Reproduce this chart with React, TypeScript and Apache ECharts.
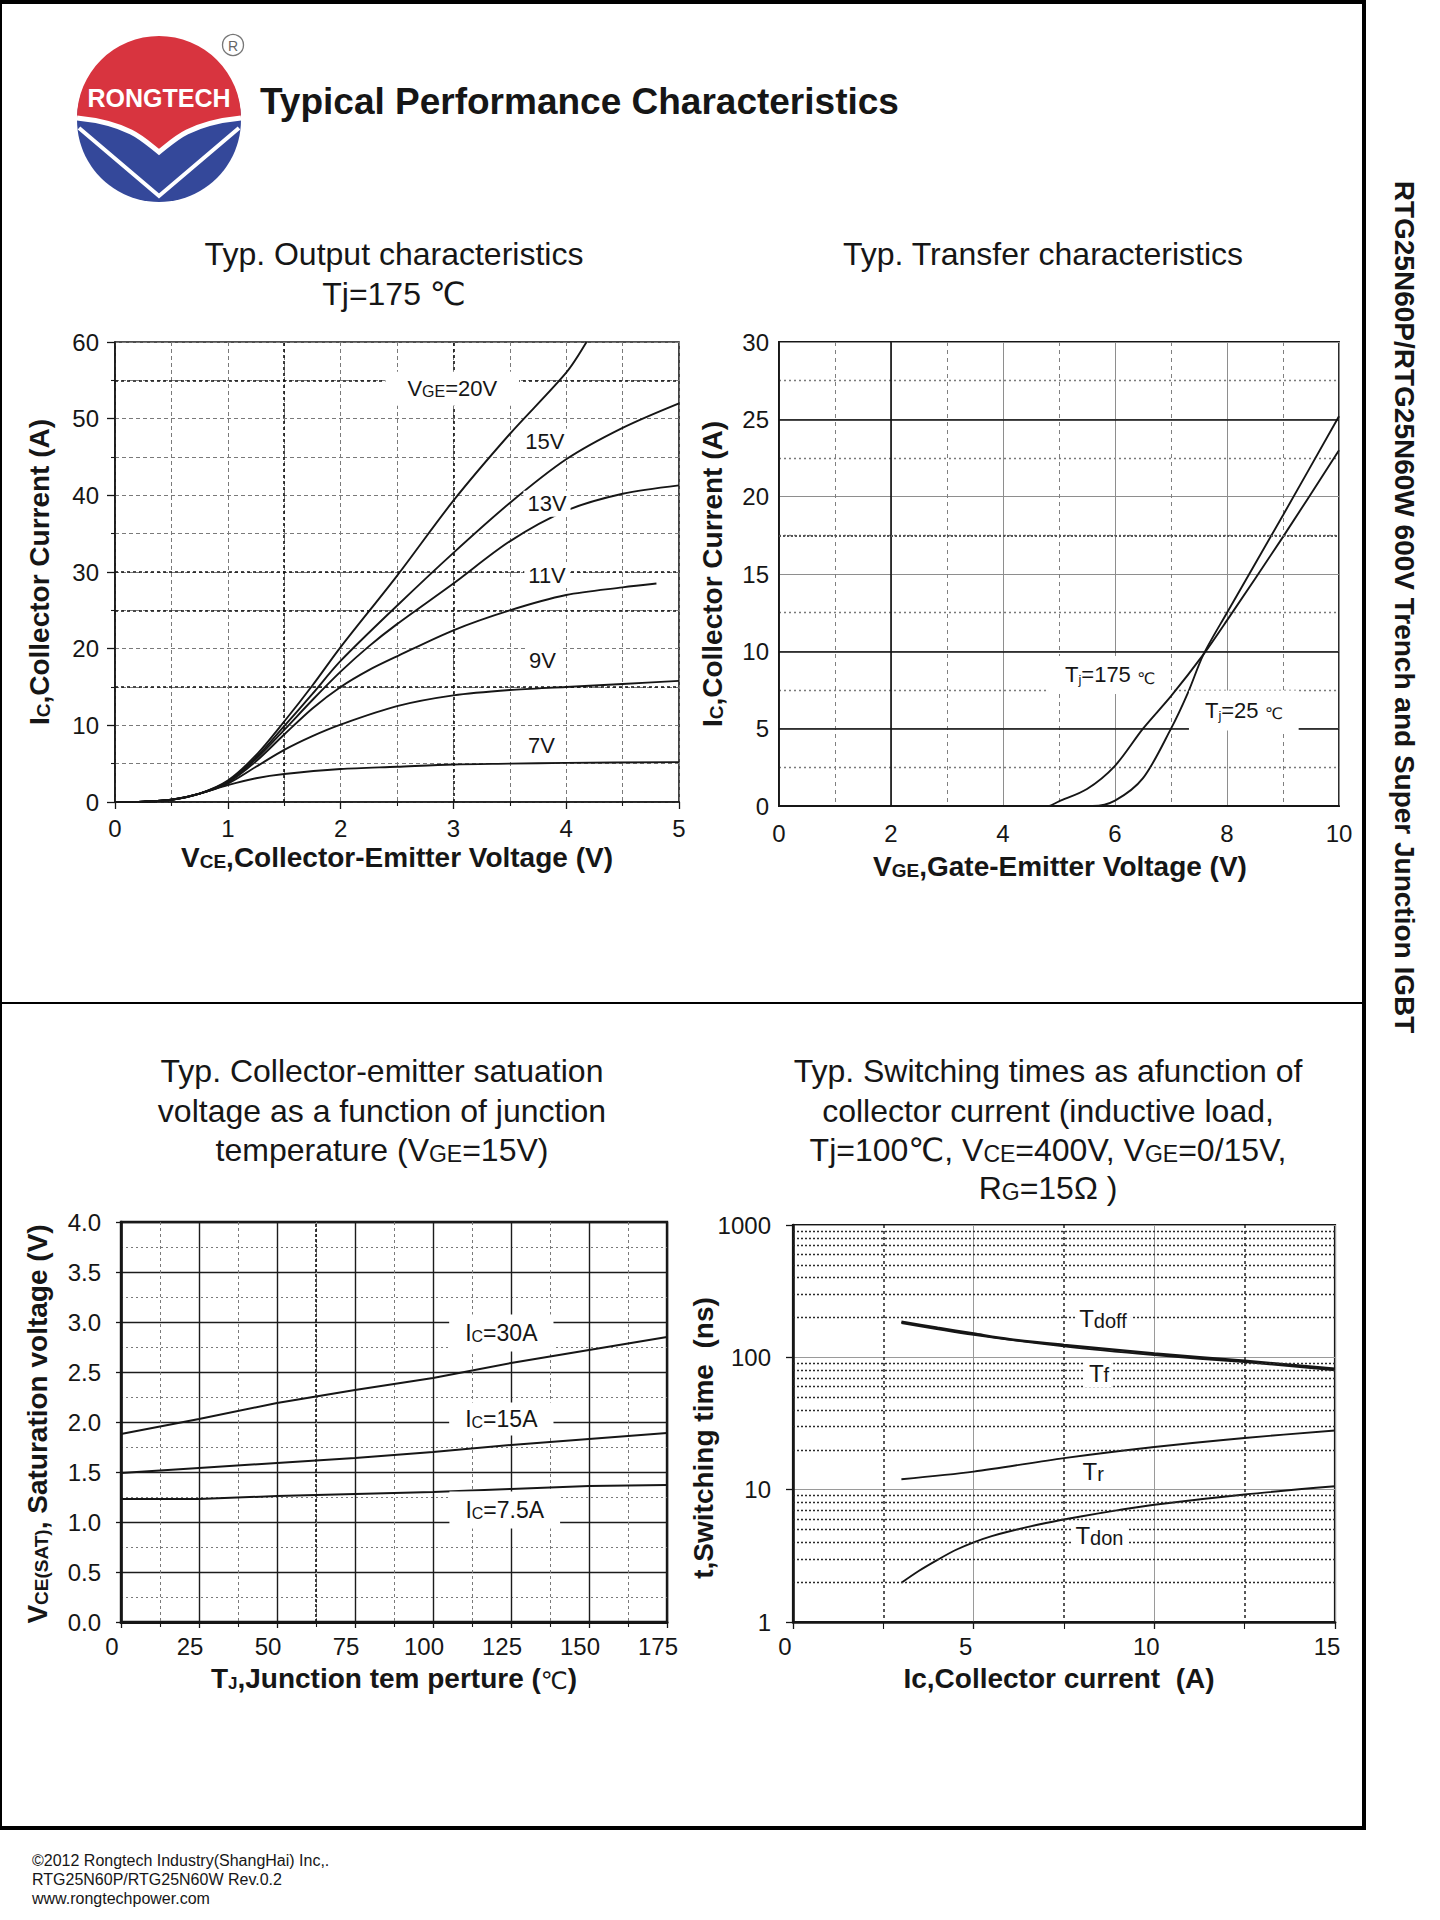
import React, { useEffect, useRef } from "react";
import * as echarts from "echarts";

const FONT = "'Liberation Sans', Arial, Helvetica, sans-serif";
const FONT_CJK = "'Liberation Sans', 'DejaVu Sans', 'Noto Sans CJK SC', sans-serif";
const INK = "#161616";

// ================= Chart 1: Typ. output characteristics (VCE [V] -> Ic [A]) =================
const c1XTicks = [0, 1, 2, 3, 4, 5];
const c1YTicks = [0, 10, 20, 30, 40, 50, 60];
const c1Vge20 = [[0, 0], [0.25, 0.05], [0.5, 0.3], [0.75, 1.1], [1, 2.8], [1.25, 6.1], [1.5, 10.5], [1.75, 15.2], [2, 20.2], [2.5, 29.5], [3, 39.3], [3.5, 48], [4, 56], [4.18, 60]];
const c1Vge15 = [[0, 0], [0.25, 0.05], [0.5, 0.3], [0.75, 1.1], [1, 2.7], [1.25, 5.8], [1.5, 9.9], [1.75, 14.1], [2, 18.4], [2.5, 25.6], [3, 32.5], [3.5, 39], [4, 44.7], [4.5, 48.8], [5, 52]];
const c1Vge13 = [[0, 0], [0.25, 0.05], [0.5, 0.3], [0.75, 1.1], [1, 2.6], [1.25, 5.6], [1.5, 9.4], [1.75, 13.3], [2, 17], [2.25, 20.3], [2.5, 23.2], [3, 28.5], [3.5, 34], [4, 38], [4.5, 40.2], [5, 41.3]];
const c1Vge11 = [[0, 0], [0.25, 0.05], [0.5, 0.3], [0.75, 1.1], [1, 2.5], [1.25, 5.3], [1.5, 8.8], [1.75, 12.2], [2, 15], [2.25, 17.2], [2.5, 19], [3, 22.4], [3.5, 25], [4, 27], [4.5, 28], [4.8, 28.5]];
const c1Vge9 = [[0, 0], [0.25, 0.05], [0.5, 0.3], [0.75, 1.1], [1, 2.4], [1.25, 4.6], [1.5, 6.8], [1.75, 8.6], [2, 10.1], [2.5, 12.5], [3, 13.9], [3.5, 14.6], [4, 15], [4.5, 15.4], [5, 15.8]];
const c1Vge7 = [[0, 0], [0.25, 0.05], [0.5, 0.3], [0.75, 1.1], [1, 2.2], [1.25, 3.1], [1.5, 3.65], [2, 4.3], [2.5, 4.6], [3, 4.9], [3.5, 5], [4, 5.1], [5, 5.2]];
const c1Labels = [
  { at: [2.99, 53.9], text: "{a|V}{s|GE}{a|=20V}", pad: [6, 22] },
  { at: [3.81, 47.0], text: "{a|15V}", pad: [2, 4] },
  { at: [3.83, 38.9], text: "{a|13V}", pad: [2, 4] },
  { at: [3.83, 29.6], text: "{a|11V}", pad: [2, 4] },
  { at: [3.79, 18.5], text: "{a|9V}", pad: [2, 4] },
  { at: [3.78, 7.4], text: "{a|7V}", pad: [2, 4] },
];
const c1HeavyX = [1.5, 3];
const c1HeavyY = [55, 30, 25, 15];

// ================= Chart 2: Typ. transfer characteristics (VGE [V] -> Ic [A]) =================
const c2XTicks = [0, 2, 4, 6, 8, 10];
const c2YTicks = [0, 5, 10, 15, 20, 25, 30];
const c2Tj175 = [[0, 0], [4.8, 0], [5, 0.3], [5.5, 1.1], [6, 2.6], [6.5, 5], [7, 7.1], [7.58, 9.8], [8, 12], [9, 17.4], [10, 23]];
const c2Tj25 = [[0, 0], [5.6, 0], [6, 0.35], [6.5, 1.8], [7, 5], [7.3, 7.3], [7.58, 9.8], [8, 12.5], [9, 18.8], [10, 25.2]];
const c2Labels = [
  { at: [5.91, 8.47], text: "{a|T}{j|j}{a|=175 }{d|℃}", pad: [8, 16] },
  { at: [8.3, 6.17], text: "{a|T}{j|j}{a|=25 }{d|℃}", pad: [9, 16] },
];
const c2BlackX = [2];
const c2BlackY = [5, 10, 25];
const c2HeavyY = [17.5];

// ================= Chart 3: VCE(sat) vs junction temperature =================
const c3XTicks = [0, 25, 50, 75, 100, 125, 150, 175];
const c3YTicks = [0, 0.5, 1, 1.5, 2, 2.5, 3, 3.5, 4];
const c3Ic30 = [[0, 1.88], [25, 2.03], [50, 2.19], [75, 2.32], [100, 2.44], [125, 2.59], [150, 2.72], [175, 2.85]];
const c3Ic15 = [[0, 1.49], [25, 1.54], [50, 1.59], [75, 1.64], [100, 1.7], [125, 1.77], [150, 1.83], [175, 1.89]];
const c3Ic75 = [[0, 1.23], [25, 1.23], [50, 1.26], [75, 1.28], [100, 1.3], [125, 1.33], [150, 1.36], [175, 1.37]];
const c3Labels = [
  { at: [121.9, 2.89], text: "{a|I}{s|C}{a|=30A}", pad: [7, 16] },
  { at: [121.9, 2.03], text: "{a|I}{s|C}{a|=15A}", pad: [5, 16] },
  { at: [123, 1.12], text: "{a|I}{s|C}{a|=7.5A}", pad: [7, 16] },
];
const c3HeavyX = [62.5];

// ================= Chart 4: switching times vs collector current (log) =================
const c4XTicks = [0, 5, 10, 15];
const c4YTicks = [1, 10, 100, 1000];
const c4Tdoff = [[3, 186], [4, 167], [5, 151], [6, 137], [7.5, 124], [10, 107], [12.5, 94], [15, 82]];
const c4Tf = [[3, 182], [5, 148], [7.5, 121], [10, 104], [12.5, 92], [15, 80]];
const c4Tr = [[3, 12], [5, 13.7], [7.5, 17.3], [10, 21], [12.5, 24.6], [15, 28]];
const c4Tdon = [[3, 1.98], [3.5, 2.45], [4, 2.95], [4.5, 3.5], [5, 4.0], [5.5, 4.45], [6, 4.85], [7, 5.6], [8, 6.3], [9, 7.0], [10, 7.7], [12.5, 9.2], [15, 10.6]];
const c4Labels = [
  { at: [8.58, 196], text: "{b|T}{t|doff}", pad: [2, 4] },
  { at: [8.47, 76], text: "{b|T}{t|f}", pad: [2, 4] },
  { at: [8.31, 13.7], text: "{b|T}{t|r}", pad: [2, 4] },
  { at: [8.48, 4.5], text: "{b|T}{t|don}", pad: [2, 4] },
];
const c4MinorY = [2, 3, 4, 5, 6, 7, 8, 9, 20, 30, 40, 50, 60, 70, 80, 90, 200, 300, 400, 500, 600, 700, 800, 900];

// ================= logo shapes =================
const RED_D = "M -82 -2 A 82 82 0 0 1 82 -2 C 62 0 44 4 28 12 C 16 18 8 26 0 32 C -8 26 -16 18 -28 12 C -44 4 -62 0 -82 -2 Z";
const WAVE_D = "M -82 -2 C -62 0 -44 4 -28 12 C -16 18 -8 26 0 32 C 8 26 16 18 28 12 C 44 4 62 0 82 -2";
const V_D = "M -80 8 L 0 76 L 80 8";
let shapesReady = false;
function ensureShapes() {
  if (shapesReady) return;
  echarts.graphic.registerShape("logoRed", echarts.graphic.extendPath(RED_D, {}));
  echarts.graphic.registerShape("logoWave", echarts.graphic.extendPath(WAVE_D, {}));
  echarts.graphic.registerShape("logoV", echarts.graphic.extendPath(V_D, {}));
  shapesReady = true;
}

// ================= helpers =================
function tok(size: number, weight = "normal", family = FONT, extra: any = {}) {
  return { fontSize: size, fontWeight: weight, fontFamily: family, color: INK, fill: INK, verticalAlign: "bottom", ...extra };
}
function richSet(size: number, small: number, weight = "normal") {
  return {
    a: tok(size, weight, FONT_CJK),
    s: tok(small, weight, FONT_CJK),
    c: tok(size - 4, "normal", FONT_CJK),
    j: tok(13, "normal", FONT, { verticalAlign: "bottom", lineHeight: 14 }),
    d: tok(16, "normal", FONT_CJK),
    b: tok(size, weight, FONT),
    t: tok(small, weight, FONT),
  };
}
function gtext(x: number, y: number, text: string, size: number, small: number, weight = "normal", rotation = 0, align = "center") {
  return {
    type: "text",
    x,
    y,
    rotation,
    silent: true,
    style: {
      text,
      fontSize: size,
      fontWeight: weight,
      fontFamily: FONT_CJK,
      fill: INK,
      align,
      verticalAlign: "middle",
      rich: richSet(size, small, weight),
    },
  };
}
function plainText(x: number, y: number, text: string, size: number, weight = "normal", rotation = 0, align = "center", family = FONT) {
  return {
    type: "text",
    x,
    y,
    rotation,
    silent: true,
    style: { text, fontSize: size, fontWeight: weight, fontFamily: family, fill: INK, align, verticalAlign: "middle" },
  };
}
function curve(data: number[][], idx: number, width = 1.9, extra: any = {}) {
  return {
    type: "line",
    xAxisIndex: idx,
    yAxisIndex: idx,
    data,
    symbol: "none",
    showSymbol: false,
    smooth: 0.3,
    silent: true,
    emphasis: { disabled: true },
    lineStyle: { color: INK, width },
    z: 4,
    ...extra,
  };
}
function gridLines(xs: number[], ys: number[], lineStyle: any) {
  return [...xs.map((v) => ({ xAxis: v, lineStyle })), ...ys.map((v) => ({ yAxis: v, lineStyle }))];
}
function markLines(data: any[]) {
  return {
    silent: true,
    animation: false,
    symbol: ["none", "none"],
    label: { show: false },
    emphasis: { disabled: true },
    data,
  };
}
function tags(list: { at: number[]; text: string; pad: number[] }[], size: number, small: number) {
  return {
    silent: true,
    animation: false,
    data: list.map((l) => ({
      coord: l.at,
      symbol: "circle",
      symbolSize: 1,
      itemStyle: { color: "rgba(0,0,0,0)" },
      label: {
        show: true,
        position: "inside",
        formatter: l.text,
        backgroundColor: "#ffffff",
        padding: l.pad,
        color: INK,
        rich: richSet(size, small, "normal"),
      },
    })),
  };
}
const first = (a: number[]) => a[0];
const last = (a: number[]) => a[a.length - 1];
const step = (a: number[]) => a[1] - a[0];

function axisBase(idx: number, ticks: number[], o: any) {
  return {
    gridIndex: idx,
    type: "value",
    min: first(ticks),
    max: last(ticks),
    interval: step(ticks),
    axisLine: { show: true, onZero: false, lineStyle: { color: INK, width: o.lineW ?? 1.6 } },
    axisTick: o.tick ?? { show: false },
    minorTick: o.minorTick ?? { show: false, splitNumber: 2 },
    splitLine: { show: true, lineStyle: o.split },
    minorSplitLine: { show: true, lineStyle: o.minor },
    axisLabel: {
      color: INK,
      fontSize: 24,
      fontFamily: FONT,
      margin: o.margin,
      padding: o.pad ?? 0,
      formatter: o.fmt,
    },
  };
}

function buildOption() {
  const graphics: any[] = [];
  // page frame
  const frame = (x1: number, y1: number, x2: number, y2: number, w: number) => ({
    type: "line",
    silent: true,
    shape: { x1, y1, x2, y2 },
    style: { stroke: "#000", lineWidth: w },
  });
  graphics.push(frame(0, 2, 1366, 2, 4));
  graphics.push(frame(1, 0, 1, 1830, 2));
  graphics.push(frame(1364, 0, 1364, 1830, 4));
  graphics.push(frame(0, 1828, 1366, 1828, 4));
  graphics.push(frame(0, 1003, 1364, 1003, 2));

  // logo
  graphics.push({
    type: "group",
    x: 159,
    y: 120,
    silent: true,
    children: [
      { type: "circle", shape: { cx: 0, cy: 0, r: 82 }, style: { fill: "#34489a" } },
      { type: "logoRed", style: { fill: "#d8343f" } },
      { type: "logoWave", style: { fill: "none", stroke: "#ffffff", lineWidth: 5 } },
      { type: "logoV", style: { fill: "none", stroke: "#ffffff", lineWidth: 4 } },
      {
        type: "text",
        x: 0,
        y: -22,
        style: { text: "RONGTECH", fontSize: 25, fontWeight: "bold", fontFamily: FONT, fill: "#ffffff", align: "center", verticalAlign: "middle" },
      },
    ],
  });
  graphics.push({ type: "circle", silent: true, shape: { cx: 233, cy: 45, r: 10.5 }, style: { fill: "none", stroke: "#777", lineWidth: 1.3 } });
  graphics.push({
    type: "text",
    x: 233,
    y: 45.5,
    silent: true,
    style: { text: "R", fontSize: 14, fontFamily: FONT, fill: "#666", align: "center", verticalAlign: "middle" },
  });

  // header title
  graphics.push(plainText(260, 101.5, "Typical Performance Characteristics", 37, "bold", 0, "left"));

  // chart titles
  graphics.push(gtext(394, 254, "{a|Typ. Output characteristics}", 32, 23));
  graphics.push(gtext(394, 293.5, "{a|Tj=175 ℃}", 32, 23));
  graphics.push(gtext(1043, 254, "{a|Typ. Transfer characteristics}", 32, 23));
  graphics.push(gtext(382, 1071, "{a|Typ. Collector-emitter satuation}", 32, 23));
  graphics.push(gtext(382, 1110.5, "{a|voltage as a function of junction}", 32, 23));
  graphics.push(gtext(382, 1149.6, "{a|temperature (V}{s|GE}{a|=15V)}", 32, 23));
  graphics.push(gtext(1048, 1071, "{a|Typ. Switching times as afunction of}", 32, 23));
  graphics.push(gtext(1048, 1110.5, "{a|collector current (inductive load,}", 32, 23));
  graphics.push(gtext(1048, 1149.6, "{a|Tj=100℃, V}{s|CE}{a|=400V, V}{s|GE}{a|=0/15V,}", 32, 23));
  graphics.push(gtext(1048, 1187.5, "{a|R}{s|G}{a|=15Ω )}", 32, 23));

  // axis titles
  const R = Math.PI / 2;
  graphics.push(gtext(39, 572, "{a|I}{s|C}{a|,Collector Current (A)}", 28, 19, "bold", R));
  graphics.push(gtext(397, 857, "{a|V}{s|CE}{a|,Collector-Emitter Voltage (V)}", 28, 19, "bold"));
  graphics.push(gtext(712, 574, "{a|I}{s|C}{a|,Collector Current (A)}", 28, 19, "bold", R));
  graphics.push(gtext(1060, 866, "{a|V}{s|GE}{a|,Gate-Emitter Voltage (V)}", 28, 19, "bold"));
  graphics.push(gtext(37, 1424, "{a|V}{s|CE(SAT)}{a|, Saturation voltage (V)}", 28, 19, "bold", R));
  graphics.push(gtext(394, 1678, "{a|T}{s|J}{a|,Junction tem perture (}{c|℃}{a|)}", 28, 17, "bold"));
  graphics.push(gtext(703, 1438, "{a|t,Switching time  (ns)}", 28, 19, "bold", R));
  graphics.push(gtext(1059, 1678, "{a|Ic,Collector current  (A)}", 28, 22, "bold"));

  // side text
  graphics.push(plainText(1404, 607, "RTG25N60P/RTG25N60W 600V Trench and Super Junction IGBT", 28, "bold", -Math.PI / 2));

  // footer
  graphics.push(plainText(32, 1860, "©2012 Rongtech Industry(ShangHai) Inc,.", 16, "normal", 0, "left"));
  graphics.push(plainText(32, 1879, "RTG25N60P/RTG25N60W Rev.0.2", 16, "normal", 0, "left"));
  graphics.push(plainText(32, 1898, "www.rongtechpower.com", 16, "normal", 0, "left"));

  const dashGray = { color: "#7a7a7a", type: [4, 3], width: 1 };
  const outTick = (len: number) => ({ show: true, inside: false, length: len, lineStyle: { color: INK, width: 1.3 } });
  const outMinor = (len: number) => ({ show: true, splitNumber: 2, length: len, lineStyle: { color: INK, width: 1.1 } });

  const xAxis = [
    axisBase(0, c1XTicks, { tick: outTick(7), minorTick: outMinor(4), split: dashGray, minor: dashGray, margin: 14 }),
    axisBase(1, c2XTicks, {
      lineW: 1.8,
      split: { color: "#8e8e8e", type: "solid", width: 1 },
      minor: { color: "#808080", type: [4, 4], width: 1 },
      margin: 15,
    }),
    axisBase(2, c3XTicks, {
      lineW: 3,
      tick: outTick(6),
      minorTick: outMinor(5),
      split: { color: "#1c1c1c", type: "solid", width: 1.4 },
      minor: { color: "#7a7a7a", type: [3, 3], width: 1 },
      margin: 12,
      pad: [0, 18, 0, 0],
    }),
    axisBase(3, c4XTicks, {
      lineW: 2.6,
      tick: outTick(7),
      minorTick: outMinor(7),
      split: { color: "#9a9a9a", type: "solid", width: 1 },
      minor: { color: "#222", type: [3, 3], width: 1.5 },
      margin: 12,
      pad: [0, 16, 0, 0],
    }),
  ];

  const yAxis: any[] = [
    axisBase(0, c1YTicks, { tick: outTick(8), minorTick: outMinor(4), split: dashGray, minor: dashGray, margin: 16 }),
    axisBase(1, c2YTicks, {
      lineW: 1.8,
      split: { color: "#8e8e8e", type: "solid", width: 1 },
      minor: { color: "#7a7a7a", type: [2, 3], width: 1.3 },
      margin: 10,
    }),
    axisBase(2, c3YTicks, {
      lineW: 2.6,
      tick: outTick(5),
      split: { color: "#1c1c1c", type: "solid", width: 1.4 },
      minor: { color: "#7a7a7a", type: [2, 3], width: 1.2 },
      margin: 20,
      fmt: (v: number) => v.toFixed(1),
    }),
    {
      gridIndex: 3,
      type: "log",
      logBase: 10,
      min: first(c4YTicks),
      max: last(c4YTicks),
      axisLine: { show: true, onZero: false, lineStyle: { color: INK, width: 2.6 } },
      axisTick: { show: true, inside: false, length: 7, lineStyle: { color: INK, width: 1.3 } },
      splitLine: { show: true, lineStyle: { color: "#9a9a9a", type: "solid", width: 1 } },
      axisLabel: { color: INK, fontSize: 24, fontFamily: FONT, margin: 22, formatter: (v: number) => String(Math.round(v)) },
    },
  ];

  const heavyDot = { color: "#111", type: [3, 3], width: 1.6 };
  const series: any[] = [
    curve(c1Vge20, 0, 1.9, { markLine: markLines(gridLines(c1HeavyX, c1HeavyY, heavyDot)) }),
    curve(c1Vge15, 0),
    curve(c1Vge13, 0),
    curve(c1Vge11, 0),
    curve(c1Vge9, 0),
    curve(c1Vge7, 0, 1.9, { markPoint: tags(c1Labels, 22, 16) }),

    curve(c2Tj175, 1, 1.9, {
      markLine: markLines([
        ...gridLines(c2BlackX, c2BlackY, { color: "#111", type: "solid", width: 1.6 }),
        ...gridLines([], c2HeavyY, { color: "#555", type: [2, 2], width: 1.8 }),
      ]),
    }),
    curve(c2Tj25, 1, 1.9, { markPoint: tags(c2Labels, 22, 16) }),

    curve(c3Ic30, 2, 2, { smooth: false, markLine: markLines(gridLines(c3HeavyX, [], { color: "#111", type: [3, 2], width: 1.6 })) }),
    curve(c3Ic15, 2, 2, { smooth: false }),
    curve(c3Ic75, 2, 2, { smooth: false, markPoint: tags(c3Labels, 23, 16) }),

    curve(c4Tdoff, 3, 2.6, { markLine: markLines(gridLines([], c4MinorY, { color: "#2a2a2a", type: [2, 2], width: 1.4 })) }),
    curve(c4Tf, 3, 2),
    curve(c4Tr, 3, 1.9),
    curve(c4Tdon, 3, 1.9, { markPoint: tags(c4Labels, 24, 20) }),
  ];

  return {
    animation: false,
    backgroundColor: "#ffffff",
    graphic: { elements: graphics },
    grid: [
      { left: 115, top: 342, width: 564, height: 460, show: true, borderColor: INK, borderWidth: 1.6, backgroundColor: "transparent" },
      { left: 779, top: 342, width: 560, height: 464, show: true, borderColor: INK, borderWidth: 1.8, backgroundColor: "transparent" },
      { left: 121, top: 1222, width: 546, height: 400, show: true, borderColor: INK, borderWidth: 2.4, backgroundColor: "transparent" },
      { left: 793, top: 1225, width: 542, height: 397, show: true, borderColor: INK, borderWidth: 2.2, backgroundColor: "transparent" },
    ],
    xAxis,
    yAxis,
    series,
  };
}

export default function App() {
  const ref = useRef<HTMLDivElement>(null);
  useEffect(() => {
    document.body.style.margin = "0";
    ensureShapes();
    const chart = echarts.init(ref.current as HTMLDivElement, null, { renderer: "svg" });
    chart.setOption(buildOption() as any);
    return () => chart.dispose();
  }, []);
  return <div ref={ref} style={{ width: 1440, height: 1920, background: "#ffffff" }} />;
}
